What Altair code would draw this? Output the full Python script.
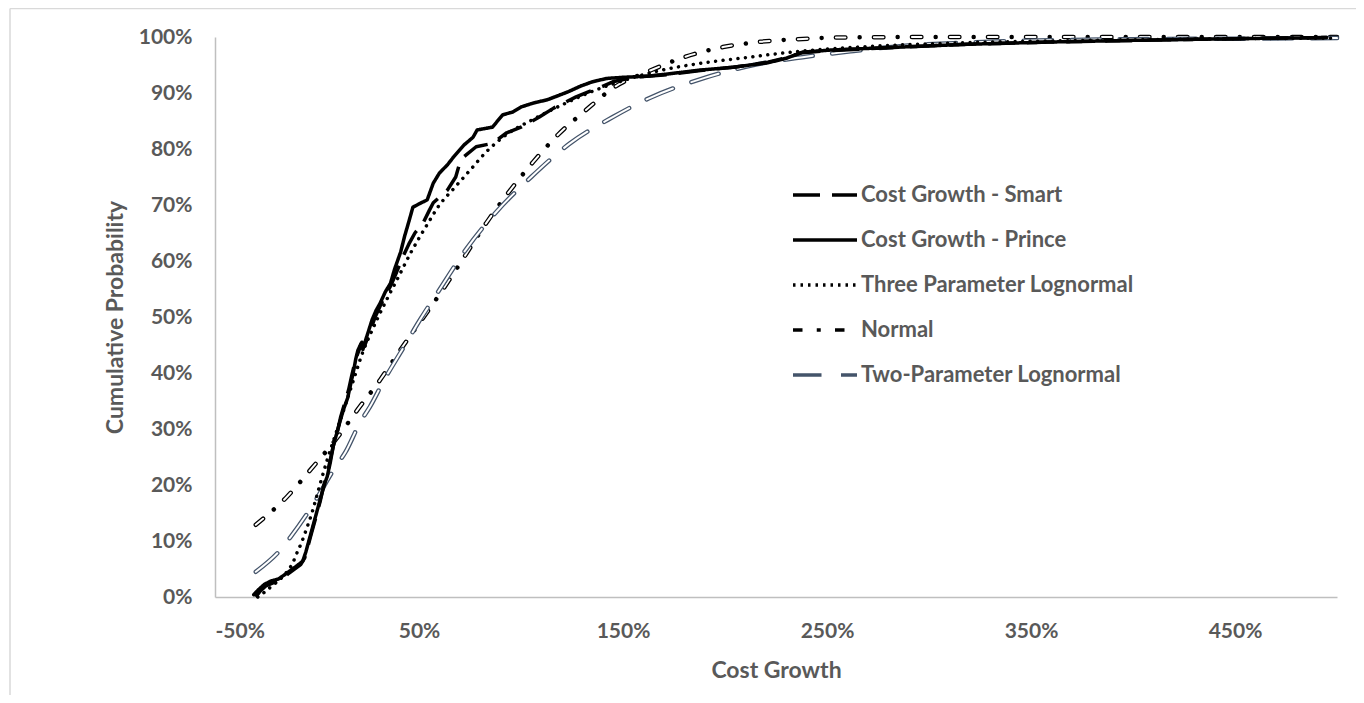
import altair as alt
import pandas as pd

SERIES = ["Cost Growth - Smart", "Cost Growth - Prince", "Three Parameter Lognormal",
          "Normal", "Two-Parameter Lognormal"]

smart_growth = [-0.30, -0.28, -0.25, -0.21, -0.17, -0.14, -0.11, -0.08, -0.06, -0.045,
                -0.03, -0.015, 0.00, 0.015, 0.03, 0.05, 0.065, 0.08, 0.10, 0.115,
                0.135, 0.155, 0.17, 0.19, 0.205, 0.22, 0.235, 0.245, 0.265, 0.285,
                0.31, 0.33, 0.36, 0.39, 0.42, 0.45, 0.48, 0.52, 0.55, 0.57,
                0.64, 0.68, 0.70, 0.72, 0.78, 0.86, 0.93, 1.00, 1.09, 1.16,
                1.27, 1.33, 1.40, 1.45, 1.55, 1.70, 1.88, 2.04, 2.21, 2.30,
                2.38, 2.53, 2.86, 3.19, 3.59, 4.0, 4.5, 4.95]
smart_prob = [0.000, 0.010, 0.020, 0.026, 0.032, 0.042, 0.050, 0.058, 0.070, 0.090,
              0.110, 0.130, 0.150, 0.170, 0.195, 0.220, 0.245, 0.270, 0.295, 0.320,
              0.345, 0.370, 0.395, 0.425, 0.440, 0.455, 0.450, 0.460, 0.480, 0.500,
              0.520, 0.535, 0.555, 0.580, 0.607, 0.630, 0.650, 0.668, 0.690, 0.704,
              0.727, 0.750, 0.775, 0.786, 0.804, 0.810, 0.829, 0.839, 0.857, 0.873,
              0.893, 0.902, 0.912, 0.920, 0.928, 0.932, 0.940, 0.946, 0.955, 0.963,
              0.972, 0.976, 0.982, 0.987, 0.991, 0.994, 0.997, 0.999]

prince_growth = [-0.31, -0.29, -0.26, -0.23, -0.19, -0.15, -0.12, -0.09, -0.07, -0.055,
                 -0.04, -0.025, -0.01, 0.005, 0.02, 0.04, 0.05, 0.065, 0.08, 0.095,
                 0.11, 0.13, 0.15, 0.165, 0.18, 0.19, 0.20, 0.215, 0.225, 0.235,
                 0.25, 0.27, 0.29, 0.31, 0.335, 0.36, 0.38, 0.41, 0.43, 0.45,
                 0.47, 0.50, 0.54, 0.57, 0.60, 0.64, 0.67, 0.72, 0.765, 0.785,
                 0.86, 0.91, 0.96, 1.00, 1.06, 1.13, 1.18, 1.23, 1.29, 1.35,
                 1.42, 1.50, 1.62, 1.72, 1.88, 2.04, 2.21, 2.30, 2.38, 2.53,
                 2.86, 3.19, 3.59, 4.0, 4.5, 4.95]
prince_prob = [0.004, 0.012, 0.022, 0.028, 0.032, 0.042, 0.050, 0.058, 0.064, 0.080,
               0.100, 0.120, 0.140, 0.160, 0.180, 0.205, 0.215, 0.240, 0.270, 0.290,
               0.310, 0.335, 0.355, 0.380, 0.405, 0.425, 0.440, 0.452, 0.442, 0.455,
               0.472, 0.495, 0.512, 0.525, 0.545, 0.560, 0.585, 0.616, 0.645, 0.670,
               0.696, 0.702, 0.709, 0.739, 0.757, 0.772, 0.786, 0.807, 0.821, 0.834,
               0.839, 0.861, 0.866, 0.875, 0.882, 0.888, 0.895, 0.902, 0.912, 0.920,
               0.926, 0.928, 0.930, 0.934, 0.941, 0.946, 0.954, 0.962, 0.973, 0.977,
               0.982, 0.987, 0.991, 0.994, 0.997, 0.999]

three_growth = [-0.29, -0.26, -0.22, -0.18, -0.147, -0.12, -0.098, -0.075, -0.055, -0.025,
                0.01, 0.05, 0.10, 0.15, 0.19, 0.225, 0.26, 0.30, 0.35, 0.39,
                0.46, 0.54, 0.60, 0.667, 0.75, 0.83, 0.93, 1.06, 1.22, 1.35,
                1.50, 1.68, 1.88, 2.12, 2.30, 2.70, 3.10, 3.60, 4.20, 5.00]
three_prob = [0.000, 0.008, 0.020, 0.032, 0.045, 0.060, 0.079, 0.098, 0.118, 0.150,
              0.195, 0.245, 0.300, 0.355, 0.400, 0.438, 0.468, 0.500, 0.537, 0.565,
              0.615, 0.665, 0.700, 0.728, 0.762, 0.795, 0.826, 0.853, 0.882, 0.903,
              0.922, 0.940, 0.953, 0.964, 0.972, 0.983, 0.989, 0.993, 0.996, 0.998]

normal_growth = [-0.30, -0.147, -0.03, 0.10, 0.20, 0.31, 0.41, 0.47, 0.60, 0.70,
                 0.83, 0.94, 1.06, 1.18, 1.32, 1.46, 1.62, 1.80, 1.99, 2.16,
                 2.35, 2.55, 3.0, 4.0, 5.0]
normal_prob = [0.129, 0.179, 0.228, 0.285, 0.335, 0.388, 0.442, 0.473, 0.540, 0.595,
               0.668, 0.723, 0.777, 0.825, 0.870, 0.911, 0.938, 0.964, 0.982, 0.991,
               0.996, 0.999, 1.0, 1.0, 1.0]

two_growth = [-0.30, -0.18, -0.13, -0.03, 0.09, 0.14, 0.21, 0.26, 0.33, 0.42,
              0.505, 0.59, 0.735, 0.88, 1.05, 1.24, 1.45, 1.63, 1.90, 2.14,
              2.38, 2.63, 2.87, 3.12, 3.45, 4.0, 4.5, 5.0]
two_prob = [0.045, 0.084, 0.107, 0.159, 0.232, 0.259, 0.311, 0.340, 0.388, 0.443,
            0.495, 0.543, 0.623, 0.688, 0.750, 0.810, 0.857, 0.891, 0.927, 0.950,
            0.964, 0.975, 0.984, 0.989, 0.993, 0.996, 0.997, 0.998]

x_ticks = [-0.5, 0.5, 1.5, 2.5, 3.5, 4.5]
y_ticks = [0.0, 0.1, 0.2, 0.3, 0.4, 0.5, 0.6, 0.7, 0.8, 0.9, 1.0]

rows = []
for name, xs, ps in [(SERIES[0], smart_growth, smart_prob),
                     (SERIES[1], prince_growth, prince_prob),
                     (SERIES[2], three_growth, three_prob),
                     (SERIES[3], normal_growth, normal_prob),
                     (SERIES[4], two_growth, two_prob)]:
    for i, (gx, p) in enumerate(zip(xs, ps)):
        rows.append({"series": name, "growth": gx, "prob": p, "idx": i})
df = pd.DataFrame(rows)

FONT = "Lato"
TXT = "#595959"
AXC = "#BFBFBF"
BORDER = "#D9D9D9"
BLUEGRAY = "#44546A"
FS = 21
LFS = 22
TFS = 23

x_enc = alt.X("growth:Q",
              scale=alt.Scale(domain=[-0.5, 5.0], nice=False, zero=False),
              axis=alt.Axis(values=x_ticks, format=".0%", title="Cost Growth",
                            labelExpr="replace(datum.label, '\u2212', '-')",
                            grid=False, ticks=False, tickSize=0, labelPadding=23,
                            titleX=561, titleY=73, titleAlign="center",
                            titleBaseline="middle"))
y_enc = alt.Y("prob:Q",
              scale=alt.Scale(domain=[0, 1], nice=False),
              axis=alt.Axis(values=y_ticks, format=".0%", title="Cumulative Probability",
                            grid=False, ticks=False, tickSize=0, labelPadding=23,
                            titleX=-100, titleY=280, titleAngle=270, titleAlign="center",
                            titleBaseline="middle"))

base = alt.Chart(df)


def series_line(name, color, width, dash, cap, interp):
    return base.transform_filter(alt.datum.series == name).mark_line(
        strokeCap=cap, strokeJoin="round", interpolate=interp
    ).encode(
        x=x_enc, y=y_enc, order="idx:Q",
        stroke=alt.value(color), strokeWidth=alt.value(width),
        strokeDash=alt.value(dash),
    )


normal_outer = series_line(SERIES[3], "black", 4.5, [9.5, 14.25, 0.01, 14.25], "round", "monotone")
normal_inner = series_line(SERIES[3], "white", 2.0, [9.5, 28.51], "round", "monotone")
two_outer = series_line(SERIES[4], BLUEGRAY, 4.5, [28.5, 19.5], "round", "monotone")
two_inner = series_line(SERIES[4], "white", 2.0, [28.5, 19.5], "round", "monotone")
smart_line = series_line(SERIES[0], "black", 3.5, [27, 12], "butt", "linear")
prince_line = series_line(SERIES[1], "black", 3.5, [1, 0], "round", "linear")
three_line = series_line(SERIES[2], "black", 3.5, [0.01, 7.5], "round", "monotone")


def legend_cfg(label_color, blank=False):
    extra = {"labelExpr": "' '"} if blank else {}
    return alt.Legend(orient="none", legendX=576, legendY=124, title=None,
                      symbolType="stroke", symbolSize=4096, labelOffset=2,
                      labelFont=FONT, labelFontSize=LFS, labelFontWeight="bold",
                      labelColor=label_color, labelLimit=500, rowPadding=0,
                      padding=0, **extra)


empty = base.transform_filter("datum.prob > 2")

leg_outer = empty.mark_line().encode(
    x=x_enc, y=y_enc,
    stroke=alt.Stroke("series:N", scale=alt.Scale(domain=SERIES, range=["black", "black", "black", "black", BLUEGRAY]),
                      legend=legend_cfg(TXT)),
    strokeDash=alt.StrokeDash("series:N", scale=alt.Scale(domain=SERIES, range=[[27, 12], [1, 0], [2.5, 5], [9.5, 14.25, 4, 14.25], [28.5, 19.5]]),
                              legend=legend_cfg(TXT)),
    strokeWidth=alt.StrokeWidth("series:N", scale=alt.Scale(domain=SERIES, range=[3.5, 3.5, 3.5, 4.5, 4.5]),
                                legend=legend_cfg(TXT)),
)

leg_inner = empty.mark_line().encode(
    x=x_enc, y=y_enc,
    stroke=alt.Stroke("series:N", scale=alt.Scale(domain=SERIES, range=["rgba(0,0,0,0)", "rgba(0,0,0,0)", "rgba(0,0,0,0)", "white", "white"]),
                      legend=legend_cfg("rgba(0,0,0,0)", True)),
    strokeDash=alt.StrokeDash("series:N", scale=alt.Scale(domain=SERIES, range=[[1, 0], [1, 0], [1, 0], [6.5, 31.5], [25.5, 22.5]]),
                              legend=legend_cfg("rgba(0,0,0,0)", True)),
    strokeWidth=alt.StrokeWidth("series:N", scale=alt.Scale(domain=SERIES, range=[1, 1, 1, 1.8, 1.8]),
                                legend=legend_cfg("rgba(0,0,0,0)", True)),
)

# light grey chart-area frame (top and left edges, as in the reference)
frame_src = alt.Chart(pd.DataFrame({"frame": [0]}))
frame_top = frame_src.mark_rule(color=BORDER, strokeWidth=1.5).encode(
    x=alt.value(-205), x2=alt.value(1141), y=alt.value(-28.5))
frame_left = frame_src.mark_rule(color=BORDER, strokeWidth=1.5).encode(
    x=alt.value(-205), y=alt.value(-28.5), y2=alt.value(658))

main = alt.layer(frame_top, frame_left, normal_outer, normal_inner, two_outer, two_inner,
                 smart_line, prince_line, three_line, leg_outer)

chart = alt.layer(main, leg_inner).resolve_scale(
    stroke="independent", strokeDash="independent", strokeWidth="independent"
).properties(
    width=1122, height=560, autosize="none",
    padding={"left": 207, "top": 29, "right": 19, "bottom": 98},
).configure_view(strokeWidth=0).configure_axis(
    domainColor=AXC, domainWidth=1.5,
    labelFont=FONT, labelFontSize=FS, labelFontWeight="bold", labelColor=TXT,
    titleFont=FONT, titleFontSize=TFS, titleFontWeight="bold", titleColor=TXT,
)

chart.save("out.html", embed_options={"renderer": "svg", "actions": False})
